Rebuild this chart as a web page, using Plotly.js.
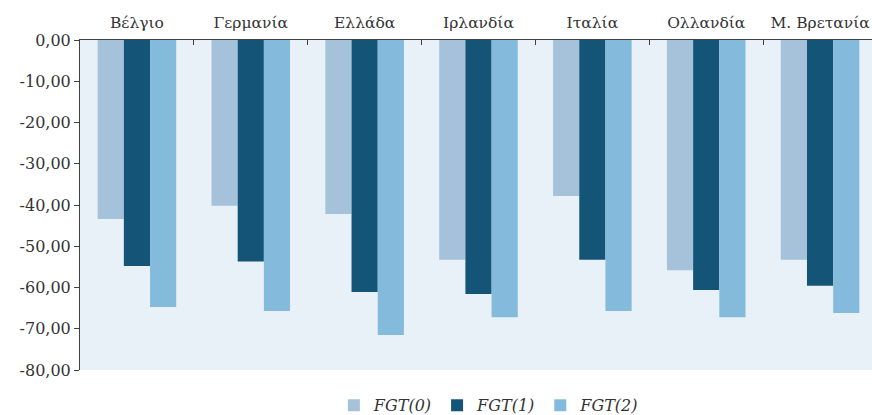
<!DOCTYPE html>
<html>
<head>
<meta charset="utf-8">
<script src="https://cdn.plot.ly/plotly-3.0.1.min.js"></script>
<style>
html,body{margin:0;padding:0;overflow:hidden;background:#fff;}
#chart{width:878px;height:415px;}
</style>
</head>
<body>
<div id="chart"></div>
<script>
const categories = ["Βέλγιο", "Γερμανία", "Ελλάδα", "Ιρλανδία", "Ιταλία", "Ολλανδία", "Μ. Βρετανία"];
const fgt0 = [-43.4, -40.2, -42.2, -53.3, -37.8, -55.8, -53.3];
const fgt1 = [-54.8, -53.7, -61.1, -61.6, -53.3, -60.6, -59.6];
const fgt2 = [-64.7, -65.7, -71.5, -67.2, -65.7, -67.2, -66.2];
const seriesNames = ["FGT(0)", "FGT(1)", "FGT(2)"];
const yTicks = [0, -10, -20, -30, -40, -50, -60, -70, -80];
const yTickText = yTicks.map(v => v.toFixed(2).replace(".", ","));

const colors = ["#a6c2db", "#145577", "#84bbdc"];
const data = [fgt0, fgt1, fgt2].map((vals, i) => ({
  type: "bar",
  x: categories,
  y: vals,
  name: seriesNames[i],
  marker: {color: colors[i]}
}));

const font = {family: "DejaVu Serif", size: 15.5, color: "#333333"};
const layout = {
  width: 878,
  height: 415,
  margin: {l: 80, r: 1, t: 40, b: 45, autoexpand: false},
  paper_bgcolor: "#ffffff",
  plot_bgcolor: "#e9f1f8",
  separators: ",.",
  barmode: "group",
  bargap: 0.31,
  bargroupgap: 0,
  font: font,
  showlegend: true,
  legend: {
    orientation: "h",
    x: 0.513, xanchor: "center",
    y: -0.107, yanchor: "middle",
    font: {family: "DejaVu Serif", size: 16, color: "#333333", style: "italic"},
    itemwidth: 30
  },
  xaxis: {
    side: "top",
    type: "category",
    showline: true,
    linecolor: "#404040",
    linewidth: 1,
    ticks: "inside",
    tickson: "boundaries",
    ticklen: 5,
    tickcolor: "#404040",
    showgrid: false,
    ticklabelstandoff: 5,
    tickfont: font
  },
  yaxis: {
    range: [-80, 0],
    tickvals: yTicks,
    ticktext: yTickText,
    showline: true,
    linecolor: "#404040",
    linewidth: 1,
    ticks: "outside",
    ticklen: 5,
    tickcolor: "#404040",
    showgrid: false,
    zeroline: false,
    tickfont: {family: "DejaVu Serif", size: 16, color: "#333333"}
  }
};

Plotly.newPlot("chart", data, layout, {displayModeBar: false, staticPlot: true});
</script>
</body>
</html>
